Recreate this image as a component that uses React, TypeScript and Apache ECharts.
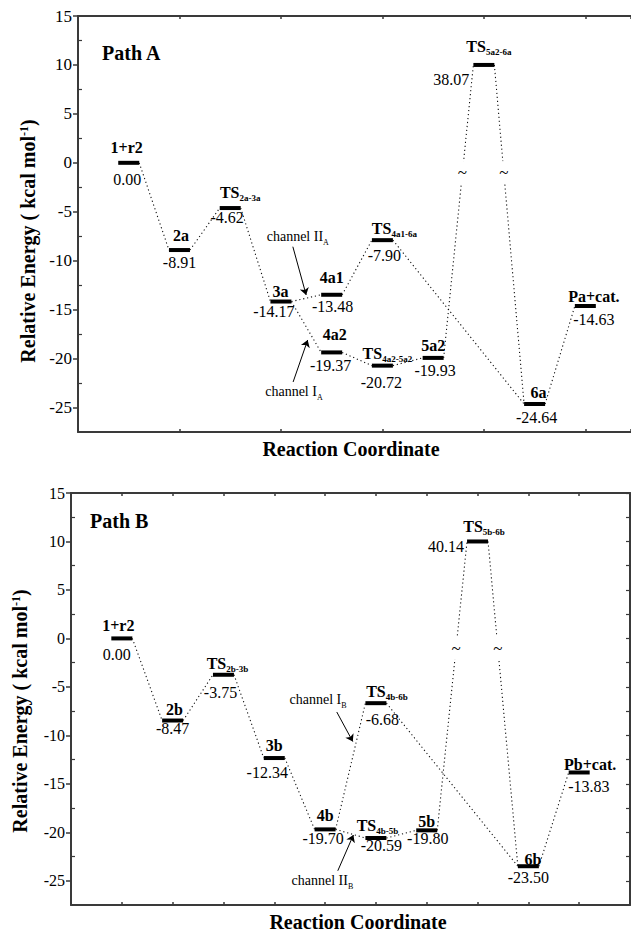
import React, { useEffect, useRef } from 'react';
import * as echarts from 'echarts';

const SERIF = '"Liberation Serif", "Times New Roman", Times, serif';

// ---------------- Path A data ----------------
const aNames = ['1+r2', '2a', 'TS', '3a', '4a1', '4a2', 'TS', 'TS', '5a2', 'TS', '6a', 'Pa+cat.'];
const aSubs = ['', '', '2a-3a', '', '', '', '4a1-6a', '4a2-5a2', '', '5a2-6a', '', ''];
const aSlots = [1, 2, 3, 4, 5, 5, 6, 6, 7, 8, 9, 10];
const aEnergies = [0.0, -8.91, -4.62, -14.17, -13.48, -19.37, -7.9, -20.72, -19.93, 38.07, -24.64, -14.63];
const aLinks = [[0, 1], [1, 2], [2, 3], [3, 4], [3, 5], [4, 6], [6, 10], [5, 7], [7, 8], [8, 9], [9, 10], [10, 11]];
const aChannels = [
  { main: 'channel II', sub: 'A', at: [3.72, -7.63], arrow: [[4.235, -8.57], [4.497, -13.5]] },
  { main: 'channel I', sub: 'A', at: [3.69, -23.56], arrow: [[4.24, -22.39], [4.527, -18.1]] },
];

// ---------------- Path B data ----------------
const bNames = ['1+r2', '2b', 'TS', '3b', '4b', 'TS', 'TS', '5b', 'TS', '6b', 'Pb+cat.'];
const bSubs = ['', '', '2b-3b', '', '', '4b-6b', '4b-5b', '', '5b-6b', '', ''];
const bSlots = [1, 2, 3, 4, 5, 6, 6, 7, 8, 9, 10];
const bEnergies = [0.0, -8.47, -3.75, -12.34, -19.7, -6.68, -20.59, -19.8, 40.14, -23.5, -13.83];
const bLinks = [[0, 1], [1, 2], [2, 3], [3, 4], [4, 5], [5, 9], [4, 6], [6, 7], [7, 8], [8, 9], [9, 10]];
const bChannels = [
  { main: 'channel I', sub: 'B', at: [4.3, -6.45], arrow: [[5.23, -7.59], [5.545, -10.64]] },
  { main: 'channel II', sub: 'B', at: [4.34, -25.08], arrow: [[5.25, -23.97], [5.557, -20.28]] },
];

// ---------------- axes ----------------
const yMajorTicks = [-25, -20, -15, -10, -5, 0, 5, 10, 15];
const yMinorTicks = [-22.5, -17.5, -12.5, -7.5, -2.5, 2.5, 7.5, 12.5];
const Y_MIN = -27.5;
const Y_MAX = 15;
const BREAK_SHOWN_AT = 10; // off-scale level drawn here
const BREAK_MARK_Y = -1; // where the "~" sits on the broken connectors

// ---------------- label layout (px nudges) ----------------
const layoutA = {
  nameGap: [9.7, 9, 9.7, 5, 11.7, 12.3, 6, 6.4, 7.3, 12.7, 6.6, 4],
  nameDx: [-2, 1.5, 10, -0.5, 0, 3, 12, 5, 0, 5, 4, 8.5],
  valueGap: [13.7, 9.3, 6, 6.3, 8.3, 9.4, 12, 13.6, 9.4, 0, 10, 10],
  valueDx: [-1.5, 0, -3, -7, 1, -1, 2, -1, 2, 0, 2, 8.5],
  offDx: 4,
  offDy: 15,
};
const layoutB = {
  nameGap: [8, 5.7, 5.5, 7.3, 8, 6, 7, 3.4, 9.3, 1, 2.7],
  nameDx: [-3.5, 1.7, 4, 0, 0, 11, 1.5, 0, 6.5, 4.5, 11],
  valueGap: [12.7, 5, 14, 11, 5.3, 12.7, 4.5, 5, 0, 8.3, 10.7],
  valueDx: [-5, 0, -3, -7, -2, 6.5, 5.5, 1, 0, 0, 9.7],
  offDx: 3,
  offDy: 5,
};

const HALF = 0.207; // half width of a level bar in slot units

const richName = {
  m: { fontFamily: SERIF, fontWeight: 'bold', fontSize: 16, lineHeight: 16, color: '#000', verticalAlign: 'bottom' },
  n: { fontFamily: SERIF, fontWeight: 'bold', fontSize: 16, lineHeight: 18, padding: [0, 0, 2, 0], color: '#000', verticalAlign: 'bottom' },
  s: { fontFamily: SERIF, fontWeight: 'bold', fontSize: 9, lineHeight: 9, color: '#000', verticalAlign: 'bottom' },
};
const richChannel = {
  c: { fontFamily: SERIF, fontSize: 14, lineHeight: 17, padding: [0, 0, 3, 0], color: '#000', verticalAlign: 'bottom' },
  s: { fontFamily: SERIF, fontSize: 8, lineHeight: 8, color: '#000', verticalAlign: 'bottom' },
};

const solid = { color: '#000', opacity: 1 };

function panelSeries(p: any, lay: any, xi: number, yi: number) {
  const plotted = p.energies.map((e: number) => (e > Y_MAX ? BREAK_SHOWN_AT : e));
  const out: any[] = [];
  out.push({
    type: 'lines',
    coordinateSystem: 'cartesian2d',
    xAxisIndex: xi,
    yAxisIndex: yi,
    silent: true,
    z: 2,
    symbol: 'none',
    lineStyle: { color: '#111', width: 1.1, type: [1.2, 2.8], opacity: 1, curveness: 0 },
    data: p.links.map(([a, b]: number[]) => ({
      coords: [
        [p.slots[a] + HALF, plotted[a]],
        [p.slots[b] - HALF, plotted[b]],
      ],
    })),
  });
  const marks: number[][] = [];
  p.links.forEach(([a, b]: number[]) => {
    if (p.energies[a] > Y_MAX || p.energies[b] > Y_MAX) {
      const x1 = p.slots[a] + HALF, y1 = plotted[a];
      const x2 = p.slots[b] - HALF, y2 = plotted[b];
      const t = (BREAK_MARK_Y - y1) / (y2 - y1);
      marks.push([x1 + t * (x2 - x1), BREAK_MARK_Y]);
    }
  });
  out.push({
    type: 'scatter',
    xAxisIndex: xi,
    yAxisIndex: yi,
    symbolSize: 0,
    silent: true,
    z: 6,
    itemStyle: solid,
    data: marks,
    label: {
      show: true,
      position: 'inside',
      formatter: '~',
      fontFamily: SERIF,
      fontSize: 17,
      color: '#000',
      backgroundColor: '#fff',
      padding: [3, 1],
    },
  });
  out.push({
    type: 'scatter',
    xAxisIndex: xi,
    yAxisIndex: yi,
    symbol: 'rect',
    symbolSize: [21, 4],
    silent: true,
    z: 5,
    itemStyle: solid,
    data: p.names.map((n: string, i: number) => ({
      value: [p.slots[i], plotted[i]],
      label: {
        show: true,
        position: 'top',
        distance: 0,
        offset: [lay.nameDx[i], p.subs[i] ? 6.6 - lay.nameGap[i] : 4.6 - lay.nameGap[i]],
        formatter: p.subs[i] ? `{n|${n}}{s|${p.subs[i]}}` : `{m|${n}}`,
        rich: richName,
      },
    })),
  });
  out.push({
    type: 'scatter',
    xAxisIndex: xi,
    yAxisIndex: yi,
    symbolSize: 0,
    silent: true,
    z: 5,
    itemStyle: solid,
    data: p.energies.map((e: number, i: number) => {
      const off = e > Y_MAX;
      return {
        value: [off ? p.slots[i] - HALF : p.slots[i], plotted[i]],
        label: off
          ? { show: true, position: 'left', distance: lay.offDx, offset: [0, lay.offDy], formatter: e.toFixed(2) }
          : { show: true, position: 'bottom', distance: 0, offset: [lay.valueDx[i], lay.valueGap[i] - 4.6], formatter: e.toFixed(2) },
      };
    }),
    label: { fontFamily: SERIF, fontSize: 16, lineHeight: 16, color: '#000' },
  });
  out.push({
    type: 'lines',
    coordinateSystem: 'cartesian2d',
    xAxisIndex: xi,
    yAxisIndex: yi,
    silent: true,
    z: 3,
    symbol: ['none', 'arrow'],
    symbolSize: 7,
    lineStyle: { color: '#000', width: 1, type: 'solid', opacity: 1, curveness: 0 },
    data: p.channels.map((c: any) => ({ coords: c.arrow })),
  });
  out.push({
    type: 'scatter',
    xAxisIndex: xi,
    yAxisIndex: yi,
    symbolSize: 0,
    silent: true,
    z: 5,
    itemStyle: solid,
    data: p.channels.map((c: any) => ({
      value: c.at,
      label: {
        show: true,
        position: 'right',
        distance: 0,
        formatter: `{c|${c.main}}{s|${c.sub}}`,
        rich: richChannel,
      },
    })),
  });
  return out;
}

const axisLineStyle = { color: '#3a3a3a', width: 2 };

function yAxesFor(grid: number, fontSize: number, nameGap: number, namePad: number, withRight: boolean) {
  const axes: any[] = [
    {
      type: 'value',
      gridIndex: grid,
      position: 'left',
      min: Y_MIN,
      max: Y_MAX,
      splitLine: { show: false },
      axisLine: { show: true, onZero: false, lineStyle: axisLineStyle },
      axisTick: { show: true, inside: false, length: 5, customValues: yMajorTicks, lineStyle: { color: '#3a3a3a', width: 1.5 } },
      axisLabel: { show: true, customValues: yMajorTicks, fontFamily: SERIF, fontSize, color: '#000', margin: 6 },
      name: 'Relative Energy ( kcal mol{sup|-1})',
      nameLocation: 'middle',
      nameGap,
      nameTextStyle: {
        fontFamily: SERIF,
        fontWeight: 'bold',
        fontSize: 20,
        color: '#000',
        padding: [0, namePad, 0, 0],
        rich: { sup: { fontFamily: SERIF, fontWeight: 'bold', fontSize: 12, lineHeight: 12, verticalAlign: 'top', color: '#000' } },
      },
    },
    {
      type: 'value',
      gridIndex: grid,
      position: 'left',
      min: Y_MIN,
      max: Y_MAX,
      splitLine: { show: false },
      axisLine: { show: false, onZero: false },
      axisTick: { show: true, inside: true, length: 4, customValues: yMinorTicks, lineStyle: { color: '#3a3a3a', width: 1.2 } },
      axisLabel: { show: false },
    },
  ];
  if (withRight) {
    axes.push({
      type: 'value',
      gridIndex: grid,
      position: 'right',
      min: Y_MIN,
      max: Y_MAX,
      splitLine: { show: false },
      axisLine: { show: true, onZero: false, lineStyle: axisLineStyle },
      axisTick: { show: true, inside: true, length: 4, customValues: yMajorTicks.concat(yMinorTicks), lineStyle: { color: '#3a3a3a', width: 1.2 } },
      axisLabel: { show: false },
    });
  }
  return axes;
}

function xAxesFor(grid: number, max: number, interval: number, namePad: number[]) {
  return [
    {
      type: 'value',
      gridIndex: grid,
      position: 'bottom',
      min: 0,
      max,
      interval,
      splitLine: { show: false },
      axisLine: { show: true, onZero: false, lineStyle: axisLineStyle },
      axisTick: { show: true, inside: true, length: 3, lineStyle: { color: '#3a3a3a', width: 1.5 } },
      axisLabel: { show: false },
      name: 'Reaction Coordinate',
      nameLocation: 'middle',
      nameGap: 7,
      nameTextStyle: { fontFamily: SERIF, fontWeight: 'bold', fontSize: 20, color: '#000', padding: namePad },
    },
    {
      type: 'value',
      gridIndex: grid,
      position: 'top',
      min: 0,
      max,
      interval,
      splitLine: { show: false },
      axisLine: { show: true, onZero: false, lineStyle: axisLineStyle },
      axisTick: { show: true, inside: true, length: 3, lineStyle: { color: '#3a3a3a', width: 1.5 } },
      axisLabel: { show: false },
    },
  ];
}

export default function App() {
  const ref = useRef<HTMLDivElement>(null);
  useEffect(() => {
    if (!ref.current) return;
    const chart = echarts.init(ref.current, undefined, { renderer: 'svg' });
    const panelA = { names: aNames, subs: aSubs, slots: aSlots, energies: aEnergies, links: aLinks, channels: aChannels };
    const panelB = { names: bNames, subs: bSubs, slots: bSlots, energies: bEnergies, links: bLinks, channels: bChannels };
    const option: any = {
      animation: false,
      backgroundColor: '#fff',
      grid: [
        { left: 78, top: 16, width: 553, height: 416 },
        { left: 71, top: 493, width: 559, height: 414 },
      ],
      xAxis: [...xAxesFor(0, 10.9, 2, [0, 7, 0, 0]), ...xAxesFor(1, 11, 1, [0, 0, 0, 15])],
      yAxis: [...yAxesFor(0, 17, 35, 34, false), ...yAxesFor(1, 16, 41, 24, true)],
      graphic: [
        { type: 'text', left: 102, top: 43, style: { text: 'Path A', font: `bold 20px ${SERIF}`, fill: '#000' } },
        { type: 'text', left: 90, top: 511, style: { text: 'Path B', font: `bold 20px ${SERIF}`, fill: '#000' } },
      ],
      series: [...panelSeries(panelA, layoutA, 0, 0), ...panelSeries(panelB, layoutB, 2, 2)],
    };
    chart.setOption(option);
    return () => chart.dispose();
  }, []);
  return <div ref={ref} style={{ position: 'absolute', left: 0, top: 0, width: 631, height: 933 }} />;
}
